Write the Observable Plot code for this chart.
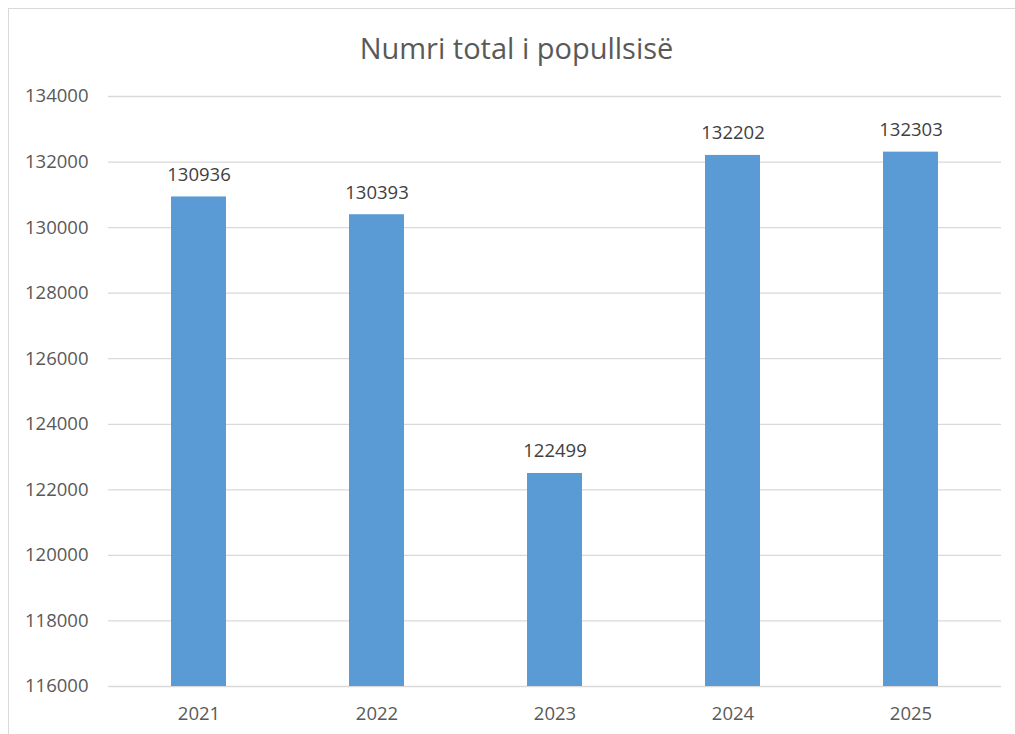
<!DOCTYPE html>
<html>
<head>
<meta charset="utf-8">
<script src="https://cdn.jsdelivr.net/npm/d3@7"></script>
<script src="https://cdn.jsdelivr.net/npm/@observablehq/plot@0.6"></script>
<style>
  html, body { margin: 0; padding: 0; background: #fff; }
  #wrap { position: relative; width: 1015px; height: 734px; overflow: hidden; background: #fff; }
  #frame { position: absolute; left: 8px; top: 8px; width: 1100px; height: 800px; border: 1px solid #D9D9D9; box-sizing: border-box; }
  #title { position: absolute; left: 9px; top: 0; width: 1015px; height: 70px; text-align: center;
           font-family: "Open Sans", sans-serif; font-size: 29px; color: #595959; line-height: 96px; }
  #chart { position: absolute; left: 0; top: 70px; }
</style>
</head>
<body>
<div id="wrap">
  <div id="frame"></div>
  <div id="title">Numri total i popullsisë</div>
  <div id="chart"></div>
</div>
<script>
const years = ["2021", "2022", "2023", "2024", "2025"];
const population = [130936, 130393, 122499, 132202, 132303];
const yTicks = [116000, 118000, 120000, 122000, 124000, 126000, 128000, 130000, 132000, 134000];

const data = years.map((y, i) => ({year: y, value: population[i]}));

const chart = Plot.plot({
  width: 1015,
  height: 664,
  marginTop: 26,
  marginBottom: 48,
  marginLeft: 108,
  marginRight: 14,
  style: {fontFamily: "Open Sans, sans-serif", fontSize: "18.5px", color: "#595959", background: "transparent"},
  x: {domain: years, paddingInner: 0.69, paddingOuter: 0.345, label: null, tickSize: 0, tickPadding: 20},
  y: {domain: [116000, 134000], ticks: yTicks, label: null, tickSize: 0, tickPadding: 20, grid: false, tickFormat: d => String(d)},
  marks: [
    Plot.ruleY(yTicks, {stroke: "#D9D9D9", strokeWidth: 1.3, strokeOpacity: 1}),
    Plot.barY(data, {x: "year", y1: 116000, y2: "value", fill: "#5B9BD5"}),
    Plot.text(data, {x: "year", y: "value", text: d => String(d.value), dy: -22, fill: "#404040", fontSize: 18.5}),
    Plot.axisX({tickSize: 0, tickPadding: 20, fontSize: 18.5}),
    Plot.axisY({ticks: yTicks, tickSize: 0, tickPadding: 20, tickFormat: d => String(d), fontSize: 18.5})
  ]
});
document.getElementById("chart").appendChild(chart);
</script>
</body>
</html>
